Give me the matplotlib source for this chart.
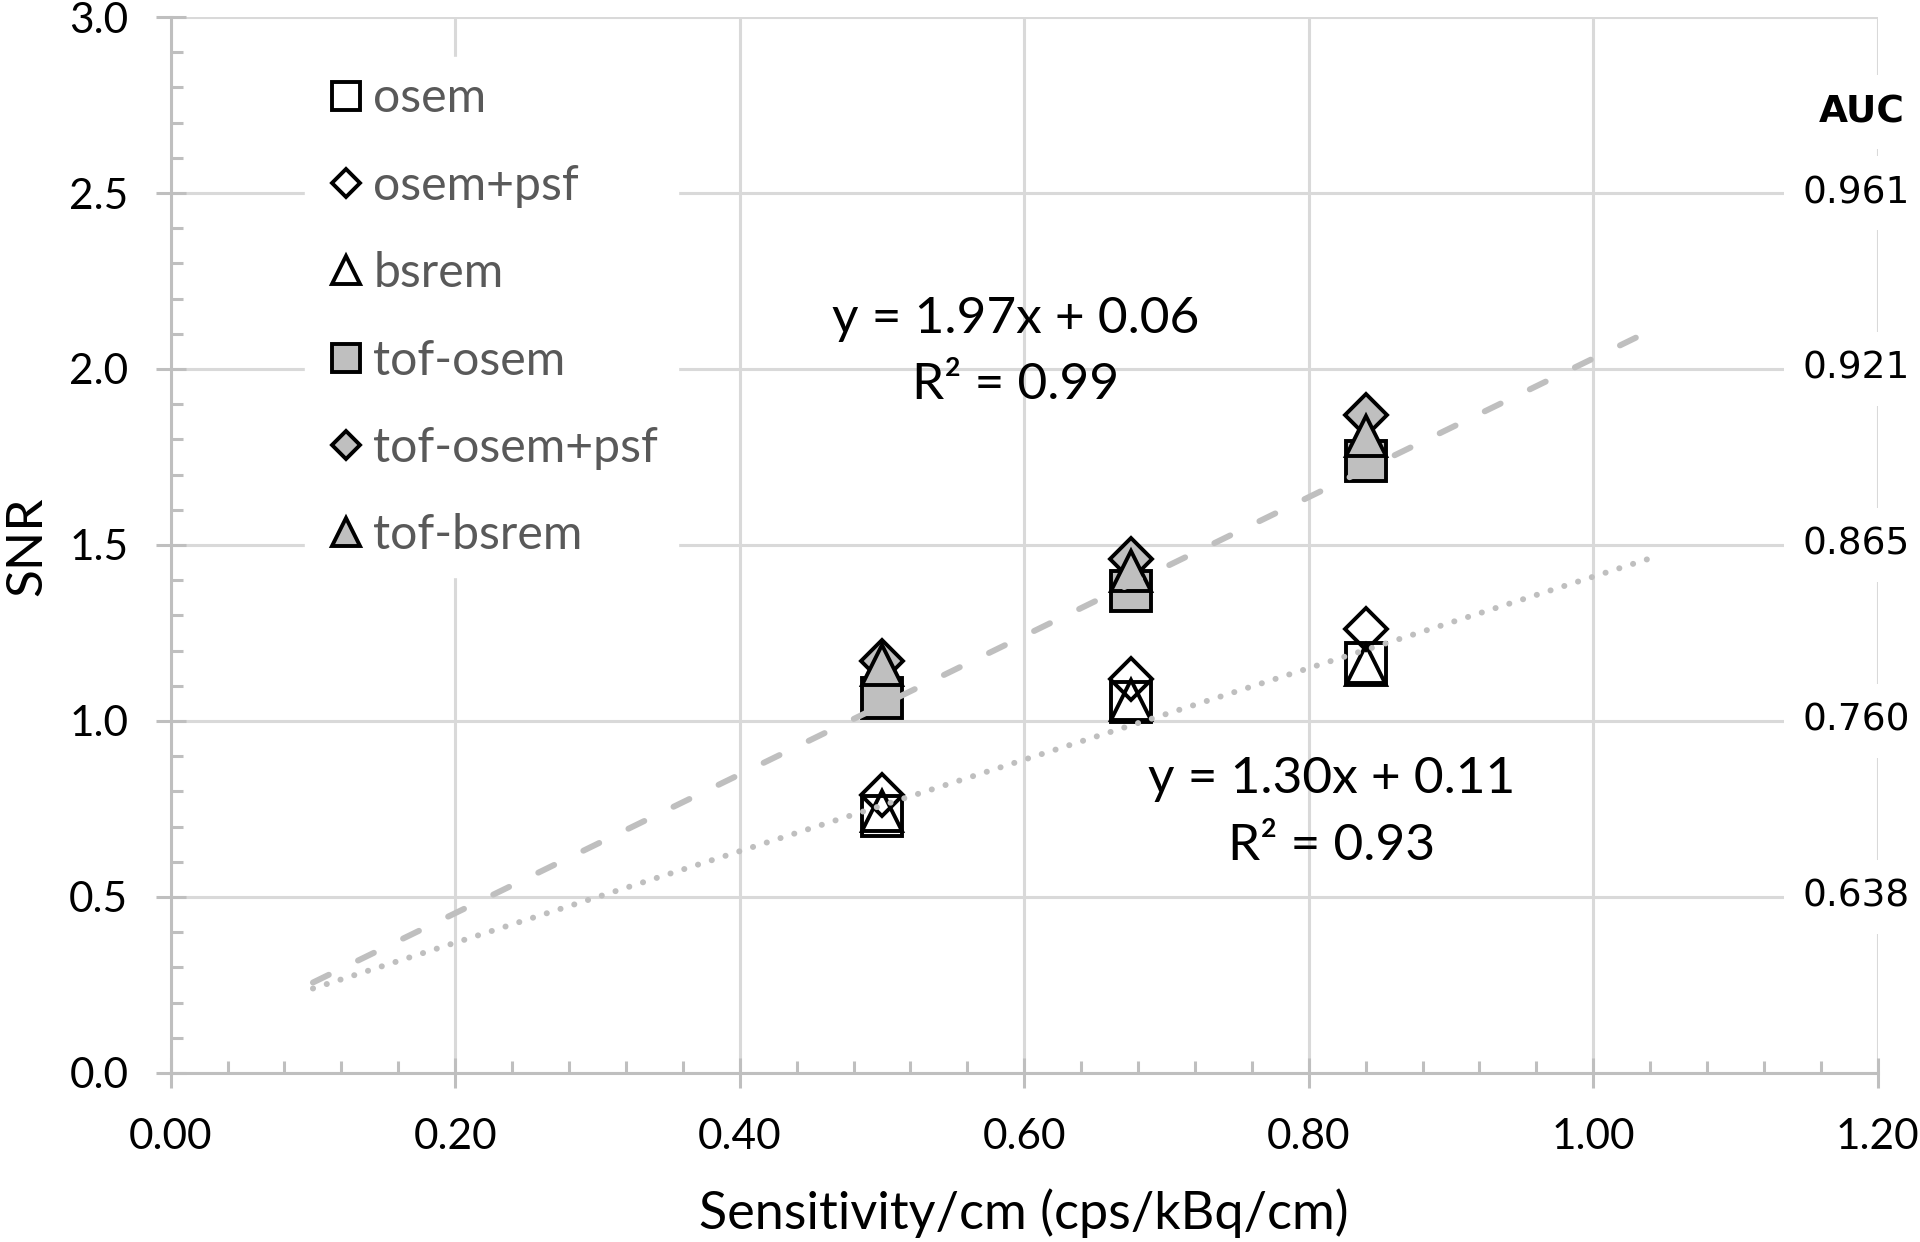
import numpy as np
import matplotlib
matplotlib.use("Agg")
import matplotlib.pyplot as plt
from matplotlib.ticker import MultipleLocator, FormatStrFormatter

# sensitivity per cm for the three scanners (cps/kBq/cm)
sens = [0.50, 0.675, 0.84]

# SNR per reconstruction
snr_osem = [0.73, 1.055, 1.165]
snr_osem_psf = [0.79, 1.12, 1.26]
snr_bsrem = [0.745, 1.06, 1.16]
snr_tof_osem = [1.065, 1.37, 1.74]
snr_tof_osem_psf = [1.17, 1.46, 1.87]
snr_tof_bsrem = [1.16, 1.425, 1.81]

series_names = ["osem", "osem+psf", "bsrem", "tof-osem", "tof-osem+psf", "tof-bsrem"]

# trend lines as given in the chart: slope, intercept, R^2
fit_tof = (1.97, 0.06, 0.99)
fit_nontof = (1.30, 0.11, 0.93)
fit_range = [0.10, 1.04]

# AUC scale on the right
auc_snr = [0.5, 1.0, 1.5, 2.0, 2.5]
auc_labels = ["0.638", "0.760", "0.865", "0.921", "0.961"]

plt.rcParams['font.family'] = ['Lato', 'DejaVu Sans']
plt.rcParams['lines.scale_dashes'] = False

fig = plt.figure(figsize=(19.2, 12.42), dpi=100)
ax = fig.add_axes([0.0889, 0.1361, 0.8891, 0.8502])

gray = '#BFBFBF'
series = [snr_osem, snr_osem_psf, snr_bsrem, snr_tof_osem, snr_tof_osem_psf, snr_tof_bsrem]
markers = ['s', 'D', '^', 's', 'D', '^']
fills = ['none', 'none', 'none', gray, gray, gray]
sizes = {'s': 29.5, 'D': 20.9, '^': 29.5}

for name, yv, m, fc in zip(series_names, series, markers, fills):
    ax.plot(sens, yv, ls='none', marker=m, ms=sizes[m], mfc=fc, mec='black',
            mew=2.8, label=name, zorder=3)

# trend lines
xs = np.array(fit_range)
for fit, dashes in [(fit_tof, (12.7, 23.4)), (fit_nontof, (0.1, 10.3))]:
    slope, icpt, r2 = fit
    ax.plot(xs, slope * xs + icpt, color=gray, lw=4.3, dashes=dashes,
            dash_capstyle='round', solid_capstyle='round', zorder=4)

ax.text(0.594, 2.048, "y = %.2fx + %.2f\nR² = %.2f" % fit_tof, ha='center', va='center',
        fontsize=37, linespacing=1.55, zorder=6)
ax.text(0.816, 0.74, "y = %.2fx + %.2f\nR² = %.2f" % fit_nontof, ha='center', va='center',
        fontsize=37, linespacing=1.55, zorder=6)

# AUC labels over the right edge
box = dict(boxstyle='square,pad=0.5', fc='white', ec='none')
for yv, lab in zip(auc_snr, auc_labels):
    ax.text(1.185, yv, lab, ha='center', va='center', family='DejaVu Sans',
            fontsize=27, bbox=box, zorder=6)
ax.text(1.189, 2.73, "AUC", ha='center', va='center', family='DejaVu Sans',
        fontsize=27, fontweight='bold', bbox=box, zorder=6)

ax.set_xlim(0, 1.2)
ax.set_ylim(0, 3.0)
ax.xaxis.set_major_locator(MultipleLocator(0.2))
ax.xaxis.set_minor_locator(MultipleLocator(0.04))
ax.yaxis.set_major_locator(MultipleLocator(0.5))
ax.yaxis.set_minor_locator(MultipleLocator(0.1))
ax.xaxis.set_major_formatter(FormatStrFormatter('%.2f'))
ax.yaxis.set_major_formatter(FormatStrFormatter('%.1f'))

ax.set_axisbelow(True)
ax.grid(True, which='major', color='#D9D9D9', lw=2.2)
for s in ['top', 'right']:
    ax.spines[s].set_visible(False)
for s in ['left', 'bottom']:
    ax.spines[s].set_color(gray)
    ax.spines[s].set_linewidth(2.2)

ax.tick_params(which='major', direction='inout', length=21, width=2.2, color=gray,
               labelsize=30.5)
ax.tick_params(axis='y', which='major', pad=20)
ax.tick_params(axis='x', which='major', pad=22)
ax.tick_params(which='minor', direction='in', length=8.5, width=2.2, color=gray)

ax.set_xlabel("Sensitivity/cm (cps/kBq/cm)", fontsize=37.5)
ax.set_ylabel("SNR", fontsize=37)
ax.xaxis.label.set_va('center')
ax.yaxis.label.set_va('center')
ax.xaxis.set_label_coords(0.5, -0.1326)
ax.yaxis.set_label_coords(-0.0842, 0.499)

leg = ax.legend(loc='upper left', bbox_to_anchor=(0.0787, 0.962), borderaxespad=0,
                frameon=True, fancybox=False, edgecolor='white', facecolor='white',
                framealpha=1, fontsize=34.7, labelcolor='#595959', markerscale=0.69,
                numpoints=1, handlelength=0.9, handletextpad=0.12, labelspacing=0.9,
                borderpad=0.4)
leg.set_zorder(5)

fig.savefig("out.png", dpi=100)
